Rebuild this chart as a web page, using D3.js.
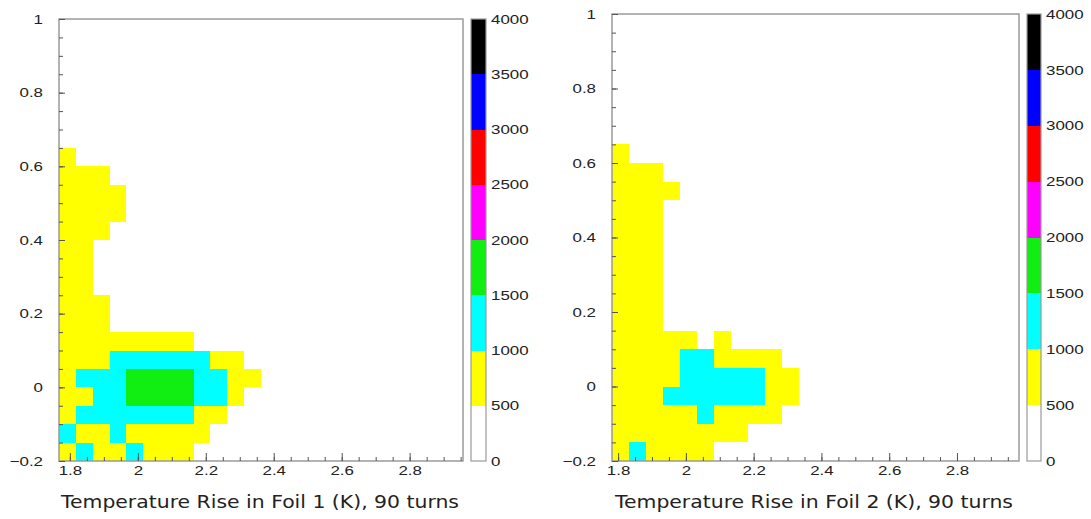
<!DOCTYPE html>
<html>
<head>
<meta charset="utf-8">
<script src="https://cdn.jsdelivr.net/npm/d3@7"></script>
<style>
  body { margin: 0; background: #fff; }
  svg { display: block; }
</style>
</head>
<body>
<svg></svg>
<script>
// counts per y-bin (bottom row first), one entry per x-bin from the left edge
let foil1Counts = [
  [700, 1100, 750, 700, 1050, 800, 750, 650],
  [1050, 900, 850, 1100, 950, 900, 850, 700, 600],
  [950, 1200, 1250, 1300, 1350, 1300, 1250, 1150, 900, 650],
  [800, 950, 1300, 1450, 1600, 1750, 1800, 1650, 1400, 1100, 700],
  [900, 1050, 1250, 1400, 1650, 1850, 1900, 1700, 1450, 1150, 800, 550],
  [800, 900, 950, 1100, 1300, 1350, 1300, 1200, 1050, 850, 600],
  [750, 800, 850, 900, 950, 850, 700, 550],
  [800, 750, 600],
  [750, 700, 550],
  [700, 650],
  [700, 600],
  [650, 600],
  [650, 600, 550],
  [700, 650, 600, 550],
  [700, 650, 600, 550],
  [650, 600, 550],
  [550],
];

let foil2Counts = [
  [800, 1050, 900, 850, 750, 600],
  [900, 950, 900, 850, 900, 850, 750, 600],
  [850, 900, 950, 950, 950, 1050, 900, 800, 700, 550],
  [800, 850, 950, 1100, 1200, 1300, 1250, 1150, 1050, 800, 600],
  [800, 850, 900, 950, 1150, 1250, 1200, 1100, 1050, 750, 550],
  [750, 800, 850, 900, 1100, 1050, 950, 850, 700, 550],
  [750, 800, 850, 700, 600, 0, 550],
  [750, 700, 600],
  [750, 700, 600],
  [700, 650, 600],
  [700, 650, 550],
  [700, 650, 550],
  [700, 650, 600],
  [650, 600, 550],
  [650, 600, 550, 550],
  [600, 600, 550],
  [550],
];

let foil1XRange = [1.768, 2.957];
let foil2XRange = [1.782, 2.983];
let yRange = [-0.2, 1];
let nBins = 24;

let xMajorTicks = [1.8, 2, 2.2, 2.4, 2.6, 2.8];
let xMinorTicks = d3.range(36, 60).map((d) => d * 0.05);
let yMajorTicks = [-0.2, 0, 0.2, 0.4, 0.6, 0.8, 1];
let yMinorTicks = d3.range(-4, 21).map((d) => d * 0.05);

let levels = [0, 500, 1000, 1500, 2000, 2500, 3000, 3500, 4000];
let levelColors = ["#ffffff", "#ffff00", "#00ffff", "#11ee11", "#ff00ff", "#ff0000", "#0000ff", "#000000"];

let titles = [
  "Temperature Rise in Foil 1 (K), 90 turns",
  "Temperature Rise in Foil 2 (K), 90 turns",
];

let width = 1091;
let height = 519;
let sx = 1.3; // labels in the picture are drawn wide
let labelFont = "'Liberation Sans', Arial, sans-serif";

let svg = d3.select("svg").attr("width", width).attr("height", height);

let colorOf = d3.scaleThreshold().domain(levels.slice(1, -1)).range(levelColors);

let panels = [
  { counts: foil1Counts, xRange: foil1XRange, title: titles[0],
    left: 59, right: 463, top: 19, bottom: 461, cbLeft: 471, cbRight: 486, titleX: 61 },
  { counts: foil2Counts, xRange: foil2XRange, title: titles[1],
    left: 612, right: 1019, top: 14, bottom: 461, cbLeft: 1027, cbRight: 1041, titleX: 615 },
];

let drawPanel = (p) => {
  let g = svg.append("g");

  let xScale = d3.scaleLinear().domain(p.xRange).range([p.left, p.right]);
  let yScale = d3.scaleLinear().domain(yRange).range([p.bottom, p.top]);
  let xStep = (p.xRange[1] - p.xRange[0]) / nBins;
  let yStep = (yRange[1] - yRange[0]) / nBins;
  let xEdge = (i) => Math.round(xScale(p.xRange[0] + i * xStep));
  let yEdge = (j) => Math.round(yScale(yRange[0] + j * yStep));

  let cells = [];
  p.counts.forEach((row, j) => {
    row.forEach((v, i) => {
      if (v > 0) cells.push({ i: i, j: j, v: v });
    });
  });

  g.selectAll("rect.cell")
    .data(cells)
    .enter()
    .append("rect")
    .attr("class", "cell")
    .attr("shape-rendering", "crispEdges")
    .attr("x", (d) => xEdge(d.i))
    .attr("y", (d) => yEdge(d.j + 1))
    .attr("width", (d) => xEdge(d.i + 1) - xEdge(d.i))
    .attr("height", (d) => yEdge(d.j) - yEdge(d.j + 1))
    .attr("fill", (d) => colorOf(d.v));

  // frame
  g.append("rect")
    .attr("x", p.left)
    .attr("y", p.top)
    .attr("width", p.right - p.left)
    .attr("height", p.bottom - p.top)
    .attr("fill", "none")
    .attr("stroke", "#9a9a9a")
    .attr("stroke-width", 1.5);

  // x axis
  let xMinor = d3.axisBottom(xScale)
    .tickValues(xMinorTicks.filter((d) => d > p.xRange[0] && d < p.xRange[1]))
    .tickSize(-4)
    .tickFormat("");
  g.append("g").attr("transform", "translate(0," + p.bottom + ")").call(xMinor);

  let xAxis = d3.axisBottom(xScale)
    .tickValues(xMajorTicks)
    .tickSize(-8)
    .tickPadding(5)
    .tickFormat(d3.format("~g"));
  let xg = g.append("g").attr("transform", "translate(0," + p.bottom + ")").call(xAxis);

  // y axis
  let yMinor = d3.axisLeft(yScale).tickValues(yMinorTicks).tickSize(-4).tickFormat("");
  g.append("g").attr("transform", "translate(" + p.left + ",0)").call(yMinor);

  let yAxis = d3.axisLeft(yScale).tickValues(yMajorTicks).tickSize(-6).tickFormat(d3.format("~g"));
  let yg = g.append("g").attr("transform", "translate(" + p.left + ",0)").call(yAxis);

  g.selectAll(".domain").remove();
  g.selectAll(".tick line").attr("stroke", "#555").attr("stroke-width", 1);

  xg.selectAll("text")
    .attr("transform", "scale(" + sx + ",1)");
  yg.selectAll("text")
    .attr("x", -16 / sx)
    .attr("transform", "scale(" + sx + ",1)");

  g.selectAll(".tick text")
    .attr("font-family", labelFont)
    .attr("font-size", 13)
    .attr("fill", "#222");

  // colour bar
  let cScale = d3.scaleLinear().domain([levels[0], levels[levels.length - 1]]).range([p.bottom, p.top]);
  let bands = levelColors.map((c, k) => ({ lo: levels[k], hi: levels[k + 1], c: c }));
  g.selectAll("rect.band")
    .data(bands)
    .enter()
    .append("rect")
    .attr("class", "band")
    .attr("shape-rendering", "crispEdges")
    .attr("x", p.cbLeft)
    .attr("y", (d) => Math.round(cScale(d.hi)))
    .attr("width", p.cbRight - p.cbLeft)
    .attr("height", (d) => Math.round(cScale(d.lo)) - Math.round(cScale(d.hi)))
    .attr("fill", (d) => d.c);
  g.append("rect")
    .attr("x", p.cbLeft)
    .attr("y", p.top)
    .attr("width", p.cbRight - p.cbLeft)
    .attr("height", p.bottom - p.top)
    .attr("fill", "none")
    .attr("stroke", "#9a9a9a")
    .attr("stroke-width", 1.2);

  let cAxis = d3.axisRight(cScale).tickValues(levels).tickSize(0).tickPadding(0).tickFormat(d3.format("d"));
  let cg = g.append("g").attr("transform", "translate(" + (p.cbRight + 5) + ",0)").call(cAxis);
  cg.select(".domain").remove();
  cg.selectAll("text")
    .attr("x", 0)
    .attr("transform", "scale(" + sx + ",1)")
    .attr("font-family", labelFont)
    .attr("font-size", 13)
    .attr("fill", "#222");

  // axis title
  g.append("text")
    .attr("x", p.titleX)
    .attr("y", 508)
    .attr("font-family", "'DejaVu Sans', sans-serif")
    .attr("font-size", 18)
    .attr("textLength", 398)
    .attr("lengthAdjust", "spacingAndGlyphs")
    .attr("fill", "#222")
    .text(p.title);
};

panels.forEach(drawPanel);
</script>
</body>
</html>
